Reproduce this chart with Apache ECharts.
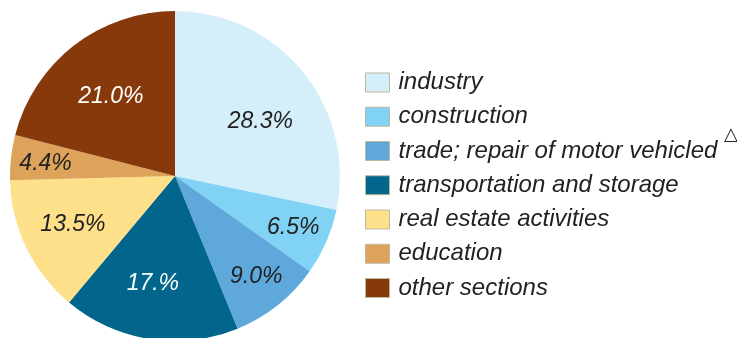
<!DOCTYPE html>
<html>
<head>
<meta charset="utf-8">
<script src="https://cdn.jsdelivr.net/npm/echarts@6/dist/echarts.min.js"></script>
<style>
  html, body { margin: 0; padding: 0; background: #fff; }
  #chart { width: 737px; height: 338px; }
</style>
</head>
<body>
<div id="chart"></div>
<script>
// Sector shares, in percent
const categories = [
  'industry',
  'construction',
  'trade; repair of motor vehicled',
  'transportation and storage',
  'real estate activities',
  'education',
  'other sections'
];
const shares = [28.3, 6.5, 9.0, 17.3, 13.5, 4.4, 21.0];
const shareLabels = ['28.3%', '6.5%', '9.0%', '17.%', '13.5%', '4.4%', '21.0%'];

const colors = ['#d4eefa', '#80d3f5', '#5ea8dc', '#02668c', '#fedf8a', '#dea35a', '#87390b'];
const labelColors = ['#222', '#222', '#222', '#fff', '#222', '#222', '#fff'];
// value label placement: distance from the pie centre and angular nudge (deg)
const labelRadius = [101, 129, 129, 110, 113, 130, 102];
const labelTurn = [6.7, 0, -0.5, 2.8, 0.3, -1.2, -1.2];

const CX = 175, CY = 176, R = 165;

// mid angle of each slice, clockwise from 12 o'clock
const total = shares.reduce((a, b) => a + b, 0);
const midAngles = [];
shares.reduce((acc, v) => { midAngles.push((acc + v / 2) / total * 360); return acc + v; }, 0);

const chart = echarts.init(document.getElementById('chart'), null, { renderer: 'canvas' });

chart.setOption({
  animation: false,
  legend: {
    orient: 'vertical',
    left: 360,
    top: 65.5,
    itemWidth: 24,
    itemHeight: 19,
    itemGap: 10.25,
    icon: 'rect',
    selectedMode: false,
    data: categories,
    itemStyle: { borderColor: '#bdb8a0', borderWidth: 1 },
    textStyle: {
      fontFamily: 'Liberation Sans, Arial, sans-serif',
      fontStyle: 'italic',
      fontSize: 24,
      lineHeight: 19,
      color: '#222',
      padding: [0, 0, 0, 4]
    }
  },
  graphic: [{
    type: 'text',
    left: 724,
    top: 126,
    silent: true,
    style: {
      text: '△',
      fontFamily: 'DejaVu Sans',
      fontSize: 18,
      fill: '#222'
    }
  }],
  series: [{
    type: 'pie',
    center: [CX, CY],
    radius: [0, R],
    startAngle: 90,
    clockwise: true,
    avoidLabelOverlap: false,
    silent: true,
    data: categories.map((name, i) => ({
      name: name,
      value: shares[i],
      itemStyle: { color: colors[i] },
      label: { color: labelColors[i] }
    })),
    label: {
      show: true,
      position: 'inside',
      fontFamily: 'Liberation Sans, Arial, sans-serif',
      fontStyle: 'italic',
      fontSize: 23,
      formatter: p => shareLabels[p.dataIndex]
    },
    labelLine: { show: false },
    labelLayout: function (p) {
      const i = p.dataIndex;
      const r = p.labelRect;
      const lx = r.x + r.width / 2, ly = r.y + r.height / 2;
      const a = (midAngles[i] + labelTurn[i]) * Math.PI / 180;
      const tx = CX + labelRadius[i] * Math.sin(a);
      const ty = CY - labelRadius[i] * Math.cos(a);
      return { dx: tx - lx, dy: ty - ly };
    }
  }]
});
</script>
</body>
</html>
